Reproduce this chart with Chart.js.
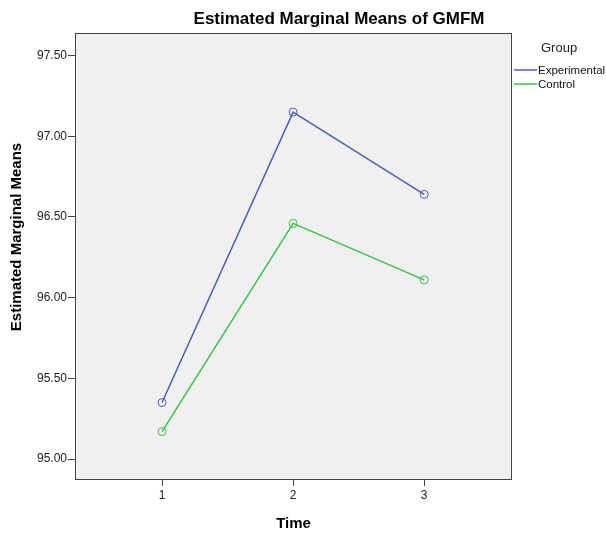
<!DOCTYPE html>
<html>
<head>
<meta charset="utf-8">
<script src="https://cdn.jsdelivr.net/npm/chart.js@4.4.1/dist/chart.umd.min.js"></script>
<style>
    body { margin: 0; background: #fff; }
    #wrap { width: 606px; height: 534px; }
</style>
</head>
<body>
<div id="wrap"><canvas id="emmChart" width="606" height="534"></canvas></div>
<script>
const timePoints = [1, 2, 3];
const groupNames = ["Experimental", "Control"];
const experimental = [95.35, 97.15, 96.64];
const control = [95.17, 96.46, 96.11];
const yTicks = [95.0, 95.5, 96.0, 96.5, 97.0, 97.5];

const FONT = "'Liberation Sans', Arial, sans-serif";
const colors = ['#4a5fb8', '#3dbf4c'];

// plot background + frame, title, y title and legend like the SPSS output
const spssLook = {
    id: 'spssLook',
    beforeDraw(chart) {
        const a = chart.chartArea;
        const ctx = chart.ctx;
        ctx.save();
        ctx.fillStyle = '#f0f0f0';
        ctx.fillRect(a.left, a.top, a.right - a.left, a.bottom - a.top);
        ctx.restore();
    },
    afterDraw(chart) {
        const a = chart.chartArea;
        const ctx = chart.ctx;
        ctx.save();
        ctx.strokeStyle = '#444';
        ctx.lineWidth = 1;
        ctx.strokeRect(a.left + 0.5, a.top + 0.5, a.right - a.left - 1, a.bottom - a.top - 1);

        // title
        ctx.fillStyle = '#000';
        ctx.font = 'bold 17px ' + FONT;
        ctx.textAlign = 'center';
        ctx.textBaseline = 'alphabetic';
        ctx.fillText('Estimated Marginal Means of GMFM', 339, 24);

        // y axis title (sits a bit above the middle in the original)
        ctx.save();
        ctx.translate(17, 237);
        ctx.rotate(-Math.PI / 2);
        ctx.font = 'bold 15px ' + FONT;
        ctx.textBaseline = 'middle';
        ctx.fillText('Estimated Marginal Means', 0, 0);
        ctx.restore();

        // legend
        ctx.font = '13px ' + FONT;
        ctx.fillStyle = '#222';
        ctx.textAlign = 'left';
        ctx.fillText('Group', 541, 52);
        ctx.font = '11.5px ' + FONT;
        groupNames.forEach((name, i) => {
            const y = 70 + i * 14;
            ctx.strokeStyle = colors[i];
            ctx.lineWidth = 1.5;
            ctx.beginPath();
            ctx.moveTo(514, y);
            ctx.lineTo(537, y);
            ctx.stroke();
            ctx.fillStyle = '#111';
            ctx.textBaseline = 'middle';
            ctx.fillText(name, 538, y + 1);
        });
        ctx.restore();
    }
};

const ctx = document.getElementById('emmChart');

new Chart(ctx, {
    type: 'line',
    data: {
        datasets: [
            {
                label: groupNames[0],
                data: timePoints.map((t, i) => ({x: t, y: experimental[i]})),
                borderColor: colors[0],
                borderWidth: 1.5,
                pointRadius: 4,
                pointBorderWidth: 1,
                pointBackgroundColor: 'rgba(0,0,0,0)',
                pointBorderColor: colors[0],
                tension: 0,
                fill: false
            },
            {
                label: groupNames[1],
                data: timePoints.map((t, i) => ({x: t, y: control[i]})),
                borderColor: colors[1],
                borderWidth: 1.5,
                pointRadius: 4,
                pointBorderWidth: 1,
                pointBackgroundColor: 'rgba(0,0,0,0)',
                pointBorderColor: colors[1],
                tension: 0,
                fill: false
            }
        ]
    },
    options: {
        responsive: false,
        animation: false,
        layout: {padding: {top: 33, right: 94, left: 0, bottom: 0}},
        plugins: {
            legend: {display: false},
            title: {display: false},
            tooltip: {enabled: false}
        },
        scales: {
            x: {
                type: 'linear',
                min: 0.336,
                max: 3.67,
                afterBuildTicks: (scale) => {
                    scale.ticks = timePoints.map(v => ({value: v}));
                },
                afterFit: (scale) => { scale.height = 54; },
                grid: {drawOnChartArea: false, drawTicks: true, tickLength: 6, color: '#444'},
                border: {display: false},
                ticks: {color: '#222', font: {family: FONT, size: 12}, padding: 2},
                title: {display: true, text: 'Time', color: '#000', font: {family: FONT, size: 15, weight: 'bold'}, padding: {top: 11, bottom: 1}}
            },
            y: {
                min: 94.87,
                max: 97.64,
                afterBuildTicks: (scale) => {
                    scale.ticks = yTicks.map(v => ({value: v}));
                },
                afterFit: (scale) => { scale.width = 75; },
                grid: {drawOnChartArea: false, drawTicks: true, tickLength: 7, color: '#444'},
                border: {display: false},
                ticks: {
                    color: '#222',
                    font: {family: FONT, size: 12},
                    padding: 1,
                    callback: (v) => Number(v).toFixed(2)
                },
                title: {display: false}
            }
        }
    },
    plugins: [spssLook]
});
</script>
</body>
</html>
